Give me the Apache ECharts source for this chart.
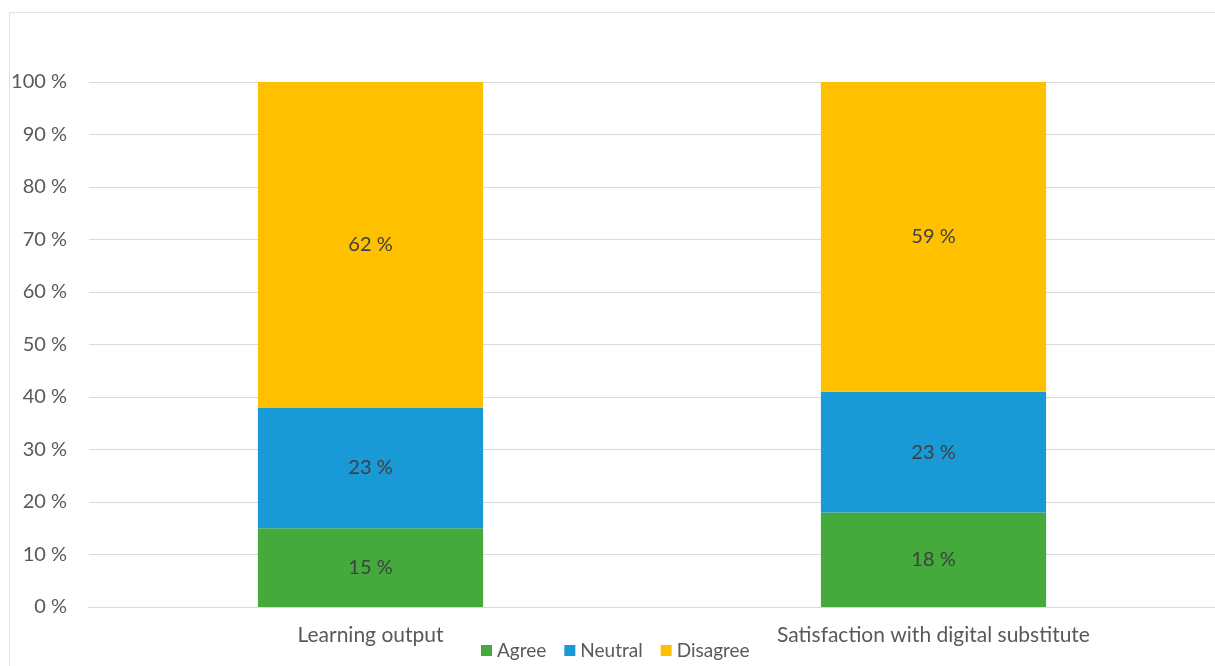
<!DOCTYPE html>
<html><head><meta charset="utf-8">
<script src="https://cdn.jsdelivr.net/npm/echarts@6/dist/echarts.min.js"></script>
<style>html,body{margin:0;padding:0;background:#fff}#c{width:1215px;height:666px}</style>
</head><body><div id="c"></div>
<script>
const categories = ['Learning output', 'Satisfaction with digital substitute'];
const agree = [15, 18];
const neutral = [23, 23];
const disagree = [62, 59];
const yTicks = [0,10,20,30,40,50,60,70,80,90,100];

const chart = echarts.init(document.getElementById('c'));
const font = 'Lato, "Open Sans", sans-serif';
const lbl = {show:true, position:'inside', formatter: p => p.value + ' %', color:'#404040', fontSize:20, fontFamily:font};
chart.setOption({
  animation:false,
  graphic:[{type:'rect', shape:{x:9.5,y:12.5,width:1230,height:700}, style:{fill:'none', stroke:'#e3e3e3', lineWidth:1}, silent:true}],
  grid:{left:89, width:1131, top:82, bottom:59, containLabel:false},
  legend:{data:['Agree','Neutral','Disagree'], left:476, top:636, itemWidth:11, itemHeight:11, itemGap:18, icon:'rect',
    textStyle:{color:'#595959', fontSize:19, fontFamily:font}},
  xAxis:{type:'category', data:categories, axisTick:{show:false}, axisLine:{lineStyle:{color:'#d9d9d9'}},
    axisLabel:{color:'#595959', fontSize:21, fontFamily:font, margin:18}},
  yAxis:{type:'value', min:0, max:100, interval:10, axisLine:{show:false}, axisTick:{show:false},
    splitLine:{lineStyle:{color:'#d9d9d9'}},
    axisLabel:{color:'#595959', fontSize:20, fontFamily:font, margin:22, formatter: v => yTicks.includes(v) ? v + ' %' : ''}},
  series:[
    {name:'Agree', type:'bar', stack:'a', data:agree, barWidth:'40%', itemStyle:{color:'#43AA3B'}, label:lbl},
    {name:'Neutral', type:'bar', stack:'a', data:neutral, itemStyle:{color:'#199AD6'}, label:lbl},
    {name:'Disagree', type:'bar', stack:'a', data:disagree, itemStyle:{color:'#FFC000'}, label:lbl}
  ]
});
</script></body></html>
